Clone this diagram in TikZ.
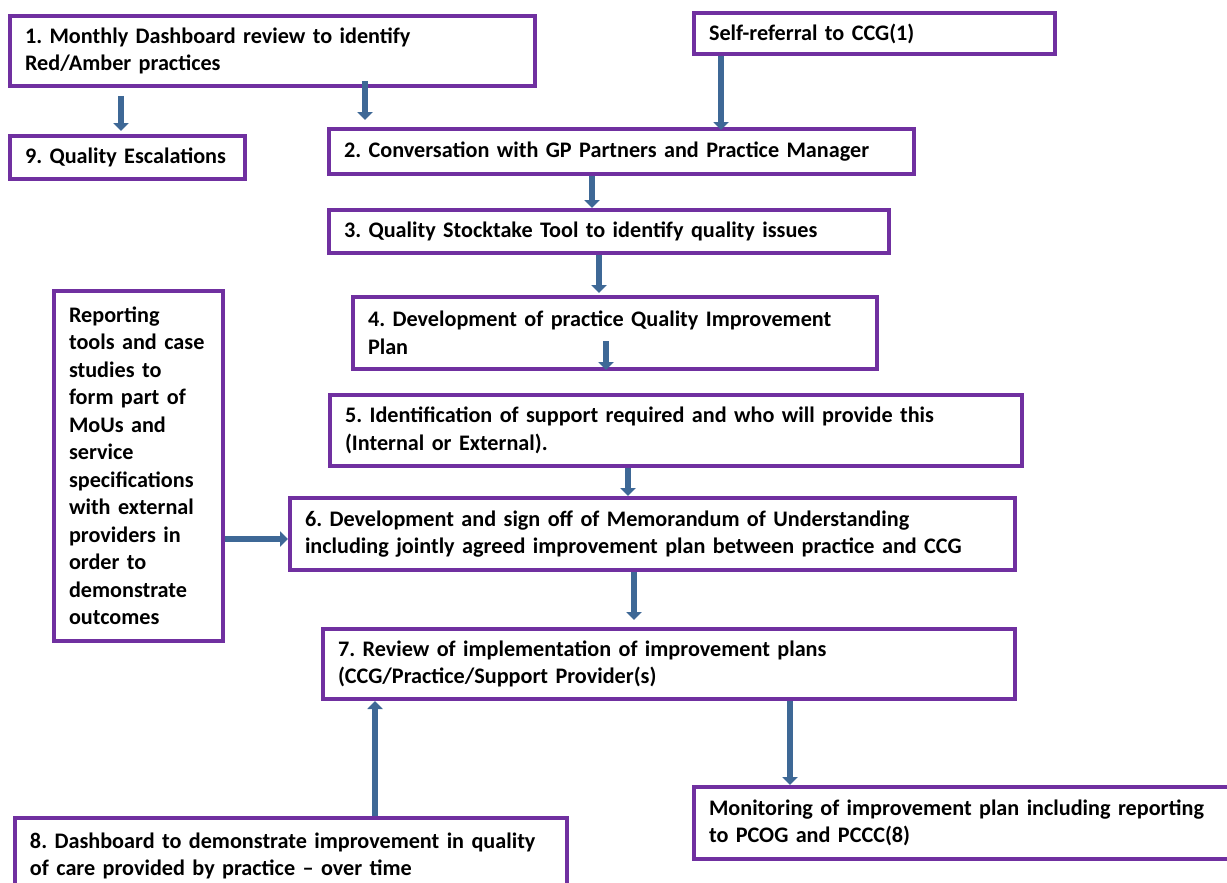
\documentclass[tikz,border=0pt]{standalone}
\usepackage{fontspec}
\setmainfont{Carlito}
\usetikzlibrary{arrows.meta}
\definecolor{boxpurple}{RGB}{112,48,160}
\definecolor{flowblue}{RGB}{62,104,150}
\tikzset{
  stage/.style={draw=boxpurple, line width=4pt, anchor=north west,
    inner xsep=15pt, inner ysep=0pt, align=left,
    font=\fontsize{22.2}{27.5}\selectfont\bfseries\frenchspacing},
  flow/.style={draw=flowblue, line width=6pt,
    -{Triangle[width=15pt,length=8pt]}}
}
\begin{document}
\begin{tikzpicture}[x=1pt, y=-1pt]
    \useasboundingbox (0,0) rectangle (1227,883);
    % boxes
    \node[stage, text width=495pt, minimum height=70pt] (box1) at (8,14)
        {1. Monthly Dashboard review to identify\\Red/Amber practices};
    \node[stage, text width=331pt, minimum height=41pt] (selfref) at (692,11)
        {Self-referral to CCG(1)};
    \node[stage, text width=205pt, minimum height=43pt] (box9) at (8,134)
        {9. Quality Escalations};
    \node[stage, text width=555pt, minimum height=45pt] (box2) at (327,127)
        {2. Conversation with GP Partners and Practice Manager};
    \node[stage, text width=530pt, minimum height=43pt] (box3) at (327,208)
        {3. Quality Stocktake Tool to identify quality issues};
    \node[stage, text width=494pt, minimum height=72pt] (box4) at (351,295)
        {4. Development of practice Quality Improvement\\Plan};
    \node[stage, text width=662pt, minimum height=71pt] (box5) at (328,393)
        {5. Identification of support required and who will provide this\\(Internal or External).};
    \node[stage, text width=695pt, minimum height=72pt] (box6) at (288,496)
        {6. Development and sign off of Memorandum of Understanding\\including jointly agreed improvement plan between practice and CCG};
    \node[stage, text width=662pt, minimum height=70pt] (box7) at (321,627)
        {7. Review of implementation of improvement plans\\(CCG/Practice/Support Provider(s)};
    \node[stage, text width=139pt, minimum height=350pt] (report) at (52,289)
        {Reporting\\tools and case\\studies to\\form part of\\MoUs and\\service\\specifications\\with external\\providers in\\order to\\demonstrate\\outcomes};
    \node[stage, text width=522pt, minimum height=76pt] (box8) at (13,816)
        {8. Dashboard to demonstrate improvement in quality\\of care provided by practice -- over time};
    \node[stage, text width=515pt, minimum height=72pt] (monitor) at (692,785)
        {Monitoring of improvement plan including reporting\\to PCOG and PCCC(8)};
    % arrows
    \draw[flow] ([xshift=-151.5pt,yshift=-8pt]box1.south) -- ([xshift=-6.5pt,yshift=3pt]box9.north);
    \draw[flow] ([xshift=92.5pt,yshift=7pt]box1.south) -- ([xshift=-256.5pt,yshift=7pt]box2.north);
    \draw[flow] ([xshift=-153.5pt]selfref.south) -- ([xshift=99.5pt,yshift=-3pt]box2.north);
    \draw[flow] ([xshift=-29.5pt]box2.south) -- ([xshift=-17pt]box3.north);
    \draw[flow] ([xshift=-10pt]box3.south) -- ([xshift=-16pt,yshift=2pt]box4.north);
    \draw[flow] ([xshift=-9pt,yshift=30pt]box4.south) -- ([xshift=-70pt,yshift=23pt]box5.north);
    \draw[flow] ([xshift=-48pt]box5.south) -- ([xshift=-24.5pt]box6.north);
    \draw[flow] ([xshift=-18.5pt]box6.south) -- ([xshift=-35pt,yshift=7pt]box7.north);
    \draw[flow] ([yshift=-73pt]report.east) -- ([yshift=-5pt]box6.west);
    \draw[flow] ([xshift=84pt]box8.north) -- ([xshift=-294pt]box7.south);
    \draw[flow] ([xshift=121pt]box7.south) -- ([xshift=-176.5pt]monitor.north);
\end{tikzpicture}
\end{document}
